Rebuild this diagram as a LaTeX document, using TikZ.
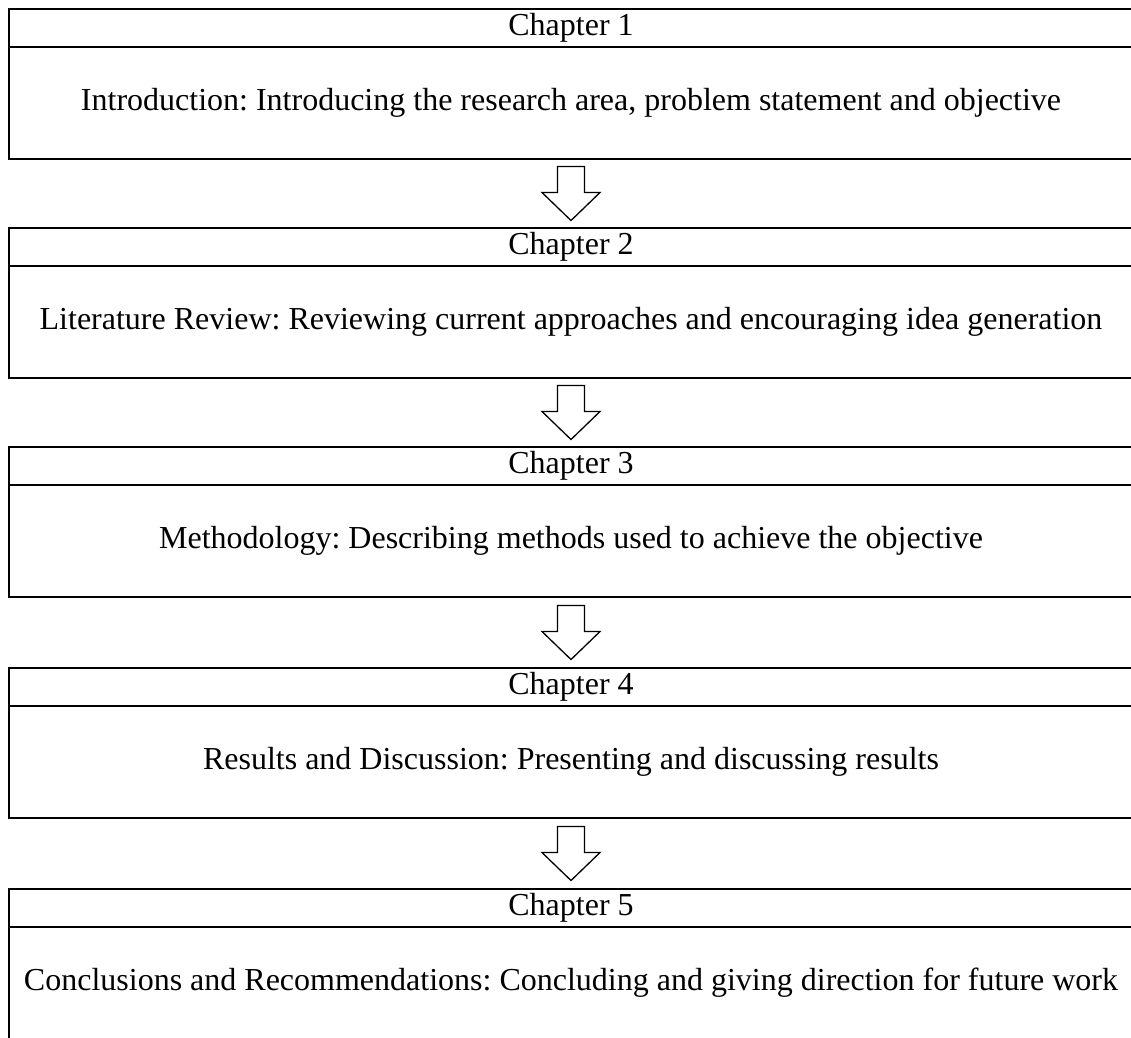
\documentclass[tikz,border=0pt]{standalone}
\usepackage{fontspec}
\setmainfont{Liberation Serif}
\usetikzlibrary{positioning,calc}
\frenchspacing
\tikzset{
    chaphead/.style={draw, line width=1.3pt, minimum width=1124pt, minimum height=38pt,
        inner sep=0pt, outer sep=0pt, font=\fontsize{32}{38}\selectfont},
    chapbody/.style={chaphead, minimum height=112pt},
    downarrow/.pic={
        \draw[line width=1.3pt, fill=white] (-13.5,-27) -- (13.5,-27) -- (13.5,-1) -- (29,-1)
            -- (0,27) -- (-29,-1) -- (-13.5,-1) -- cycle;
    }
}
\begin{document}
\begin{tikzpicture}[x=1pt, y=-1pt]
    \useasboundingbox (0,0) rectangle (1131,1037);
    \clip (0,0) rectangle (1131,1037);

    % Cajas de los capitulos
    \foreach \i/\y/\txt in {
        1/9/{Introduction: Introducing the research area, problem statement and objective},
        2/228/{Literature Review: Reviewing current approaches and encouraging idea generation},
        3/447/{Methodology: Describing methods used to achieve the objective},
        4/668/{Results and Discussion: Presenting and discussing results},
        5/889/{Conclusions and Recommendations: Concluding and giving direction for future work}} {
        \node[chaphead, anchor=north] (h\i) at (571,\y) {Chapter \i};
        \node[chapbody, below=0pt of h\i] (b\i) {\txt};
    }

    % Flechas entre capitulos
    \foreach \i/\j in {1/2,2/3,3/4,4/5} {
        \coordinate (m\i) at ($(b\i.south)!0.5!(h\j.north)$);
        \pic at (m\i) {downarrow};
    }
\end{tikzpicture}
\end{document}
